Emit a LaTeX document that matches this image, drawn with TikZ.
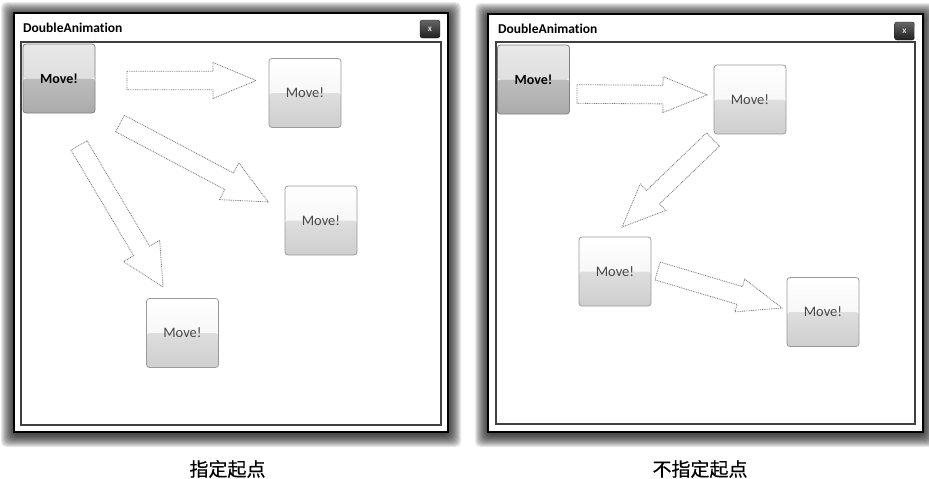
\documentclass[tikz,border=0pt]{standalone}
\usepackage{fontspec}
\setmainfont{Carlito}[Ligatures=NoCommon]
\newfontfamily\cjk{Noto Sans CJK SC}[FakeBold=0.5]
\usetikzlibrary{calc}
\definecolor{arrowgray}{HTML}{7A7A7A}
\definecolor{btnborder}{HTML}{9A9A9A}
\definecolor{darkborder}{HTML}{808080}
\tikzset{
  arrowline/.style={draw=arrowgray, fill=white, line width=0.8pt, dash pattern=on 0.9pt off 0.9pt, line join=miter},
  btnlight/.style={draw=btnborder, line width=0.8pt, rounded corners=3pt, minimum width=72pt, minimum height=69pt, inner sep=0pt,
    text=black!72, font=\fontsize{14.5}{16}\selectfont,
    path picture={
      \shade[top color=white, bottom color=black!6] (path picture bounding box.north west) rectangle (path picture bounding box.east);
      \shade[top color=black!13, bottom color=black!19] (path picture bounding box.west) rectangle (path picture bounding box.south east);
    }},
  btndark/.style={draw=darkborder, line width=0.8pt, rounded corners=3pt, minimum width=72pt, minimum height=69pt, inner sep=0pt,
    text=black, font=\bfseries\fontsize{14}{16}\selectfont,
    path picture={
      \shade[top color=black!9, bottom color=black!16] (path picture bounding box.north west) rectangle (path picture bounding box.east);
      \shade[top color=black!26, bottom color=black!33] (path picture bounding box.west) rectangle (path picture bounding box.south east);
    }},
  wintitle/.style={anchor=west, inner sep=0pt, font=\bfseries\fontsize{13.5}{15}\selectfont},
  closebtn/.style={draw=black!90, rounded corners=2.5pt, minimum width=20pt, minimum height=18pt, inner sep=0pt,
    top color=black!60, bottom color=black!88, text=black!15, font=\bfseries\fontsize{9}{9}\selectfont},
  caption/.style={inner sep=0pt, font=\cjk\fontsize{19}{20}\selectfont},
}
\newcommand\blockarrow[5]{%
  \begin{scope}[shift={(#1)}, rotate=#2]
    \draw[arrowline] (0,-9.3) -- (#3-#5,-9.3) -- (#3-#5,-#4) -- (#3,0) -- (#3-#5,#4) -- (#3-#5,9.3) -- (0,9.3) -- cycle;
  \end{scope}}
\newcommand\winframe[4]{% x1,y1,x2,y2 outer
  \foreach \i in {13,...,1}{
    \fill[black, opacity=0.085, rounded corners=5pt] (#1-\i,#2-\i+2) rectangle (#3+\i,#4+\i+2);
  }
  \draw[black, line width=2.2pt, fill=white] (#1,#2) rectangle (#3,#4);
}
\begin{document}
\begin{tikzpicture}[x=1pt, y=-1pt]
\useasboundingbox (0,0) rectangle (929,479);
\fill[white] (0,0) rectangle (929,479);

% ---------- left window ----------
\winframe{14}{13}{448}{432}
\draw[black!75, line width=1.3pt] (21,42) rectangle (441,425);
\node[wintitle] (t1) at (23,28) {DoubleAnimation};
\node[closebtn] (c1) at (430,29) {x};

\blockarrow{127,80.5}{0}{129}{18}{43}
\blockarrow{120,123.5}{-27.9}{167.5}{20.8}{44}
\blockarrow{79,145.5}{-59.3}{164.6}{21}{42}

\node[btndark]  (l1) at (59,78.5) {Move!};
\node[btnlight] (l2) at (305,93) {Move!};
\node[btnlight] (l3) at (321,220.5) {Move!};
\node[btnlight] (l4) at (182.5,333) {Move!};

\node[caption] (cap1) at (227.5,469) {指定起点};

% ---------- right window ----------
\winframe{488}{14}{923}{432}
\draw[black!75, line width=1.3pt] (496,42) rectangle (915,424);
\node[wintitle] (t2) at (498,29) {DoubleAnimation};
\node[closebtn] (c2) at (904.5,31) {x};

\blockarrow{577,94}{-0.4}{130}{18}{44}
\blockarrow{713,139.5}{-136.1}{126.2}{18.4}{43}
\blockarrow{657.5,271}{-16.55}{129.9}{17.1}{44}

\node[btndark]  (r1) at (533.5,79.5) {Move!};
\node[btnlight] (r2) at (750,99.5) {Move!};
\node[btnlight] (r3) at (615,271.5) {Move!};
\node[btnlight] (r4) at (823,312) {Move!};

\node[caption] (cap2) at (700,469) {不指定起点};
\end{tikzpicture}
\end{document}
